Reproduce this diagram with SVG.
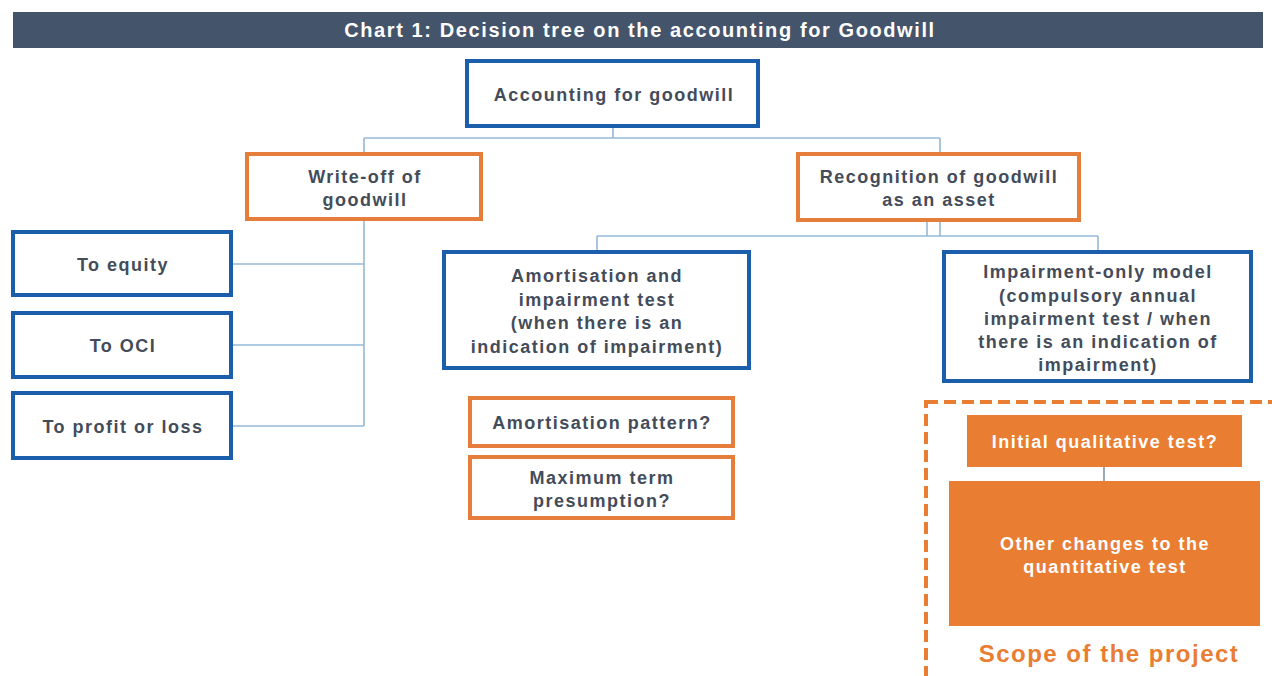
<svg xmlns="http://www.w3.org/2000/svg" width="1272" height="676" viewBox="0 0 1272 676">
<style>
.bg{fill:#ffffff}
.blue{fill:#ffffff;stroke:#1B5EAB;stroke-width:4}
.orange{fill:#ffffff;stroke:#E57E3A;stroke-width:4}
.solid{fill:#E97D32;stroke:none}
.t{font-family:"Liberation Sans",Arial,sans-serif;font-size:18px;font-weight:bold;fill:#444C5A;text-anchor:middle;letter-spacing:1.5px}
.w{font-family:"Liberation Sans",Arial,sans-serif;font-size:18px;font-weight:bold;fill:#ffffff;text-anchor:middle;letter-spacing:1.5px}
.conn line{fill:none;stroke:#94B8DA;stroke-width:1.6}
</style>
<rect class="bg" x="0" y="0" width="1272" height="676"/>
<g id="title">
<rect x="13" y="12" width="1250" height="36" fill="#44546A"/>
<text x="640" y="37" class="w" style="font-size:20px;letter-spacing:1.6px">Chart 1: Decision tree on the accounting for Goodwill</text>
</g>
<g class="conn" id="connectors">
<line x1="613" y1="126" x2="613" y2="138"/>
<line x1="364" y1="138" x2="940" y2="138"/>
<line x1="364" y1="138" x2="364" y2="152"/>
<line x1="940" y1="138" x2="940" y2="152"/>
<line x1="364" y1="220" x2="364" y2="426"/>
<line x1="232" y1="264" x2="364" y2="264"/>
<line x1="232" y1="345" x2="364" y2="345"/>
<line x1="232" y1="426" x2="364" y2="426"/>
<line x1="927" y1="221" x2="927" y2="236"/>
<line x1="940" y1="221" x2="940" y2="236"/>
<line x1="597" y1="236" x2="1098" y2="236"/>
<line x1="597" y1="236" x2="597" y2="250"/>
<line x1="1098" y1="236" x2="1098" y2="250"/>
<line x1="1104" y1="467" x2="1104" y2="481" style="stroke:#7F93A8"/>
</g>
<g id="root">
<rect class="blue" x="467" y="61" width="291" height="65"/>
<text class="t" x="614" y="101">Accounting for goodwill</text>
</g>
<g id="writeoff">
<rect class="orange" x="247" y="154" width="234" height="65"/>
<text class="t" x="365" y="183">Write-off of</text>
<text class="t" x="365" y="206">goodwill</text>
</g>
<g id="recognition">
<rect class="orange" x="798" y="154" width="281" height="66"/>
<text class="t" x="939" y="183">Recognition of goodwill</text>
<text class="t" x="939" y="206">as an asset</text>
</g>
<g id="equity">
<rect class="blue" x="13" y="232" width="218" height="63"/>
<text class="t" x="123" y="271">To equity</text>
</g>
<g id="oci">
<rect class="blue" x="13" y="313" width="218" height="64"/>
<text class="t" x="123" y="352">To OCI</text>
</g>
<g id="pl">
<rect class="blue" x="13" y="393" width="218" height="65"/>
<text class="t" x="123" y="433">To profit or loss</text>
</g>
<g id="amortisation">
<rect class="blue" x="444" y="252" width="305" height="116"/>
<text class="t" x="597" y="282">Amortisation and</text>
<text class="t" x="597" y="306">impairment test</text>
<text class="t" x="597" y="329">(when there is an</text>
<text class="t" x="597" y="353">indication of impairment)</text>
</g>
<g id="impairment">
<rect class="blue" x="944" y="252" width="307" height="129"/>
<text class="t" x="1098" y="278">Impairment-only model</text>
<text class="t" x="1098" y="302">(compulsory annual</text>
<text class="t" x="1098" y="325">impairment test / when</text>
<text class="t" x="1098" y="348">there is an indication of</text>
<text class="t" x="1098" y="371">impairment)</text>
</g>
<g id="pattern">
<rect class="orange" x="470" y="398" width="263" height="48"/>
<text class="t" x="602" y="429">Amortisation pattern?</text>
</g>
<g id="maxterm">
<rect class="orange" x="470" y="457" width="263" height="61"/>
<text class="t" x="602" y="484">Maximum term</text>
<text class="t" x="602" y="507">presumption?</text>
</g>
<g id="scope">
<rect x="926" y="402" width="360" height="300" fill="none" stroke="#E97D32" stroke-width="4" stroke-dasharray="12 6"/>
<text x="1109" y="662" style="font-family:'Liberation Sans',Arial,sans-serif;font-size:24px;font-weight:bold;fill:#E97D32;text-anchor:middle;letter-spacing:1.5px">Scope of the project</text>
</g>
<g id="qualitative">
<rect class="solid" x="967" y="415" width="275" height="52"/>
<text class="w" x="1105" y="448">Initial qualitative test?</text>
</g>
<g id="quantitative">
<rect class="solid" x="949" y="481" width="311" height="145"/>
<text class="w" x="1105" y="550">Other changes to the</text>
<text class="w" x="1105" y="573">quantitative test</text>
</g>
</svg>
